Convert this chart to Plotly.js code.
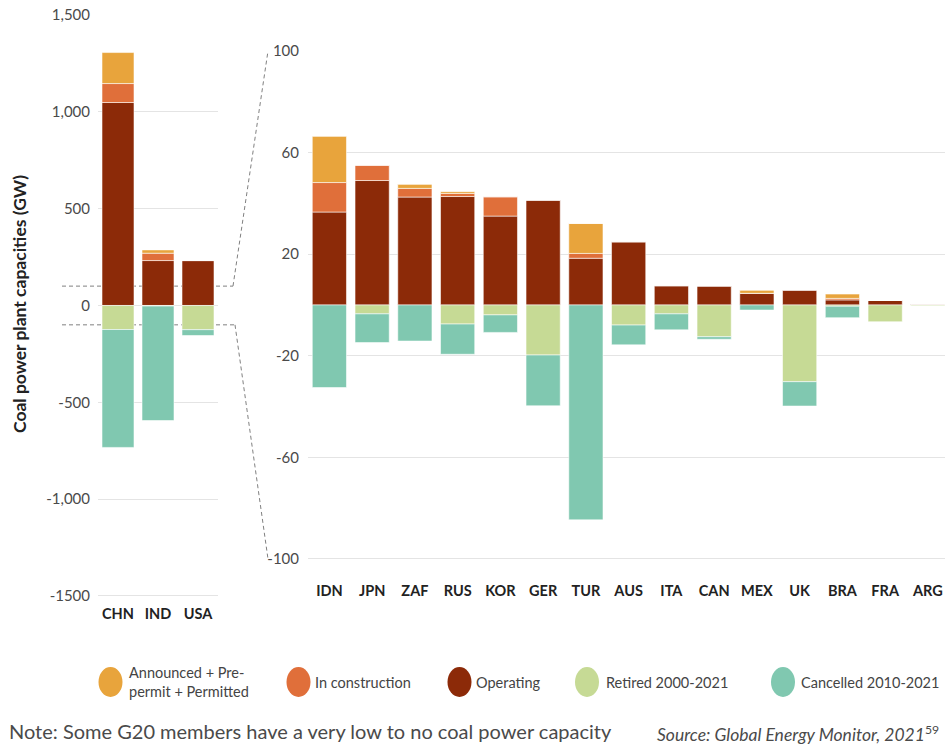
<!DOCTYPE html>
<html>
<head>
<meta charset="utf-8">
<script src="https://cdn.plot.ly/plotly-3.0.1.min.js"></script>
<style>
  html, body { margin: 0; padding: 0; background: #ffffff; }
  #chart { width: 945px; height: 747px; }
</style>
</head>
<body>
<div id="chart"></div>
<script>
// Coal power plant capacities of G20 members (GW)
const bigCountries = ['CHN', 'IND', 'USA'];
const otherCountries = ['IDN', 'JPN', 'ZAF', 'RUS', 'KOR', 'GER', 'TUR', 'AUS', 'ITA', 'CAN', 'MEX', 'UK', 'BRA', 'FRA', 'ARG'];

const seriesNames = ['Announced + Pre-permit + Permitted', 'In construction', 'Operating', 'Retired 2000-2021', 'Cancelled 2010-2021'];
const seriesColors = ['#E8A43C', '#E06F3A', '#8C2A08', '#C6DA95', '#80C8B0'];

// CHN, IND, USA
const bigAnnounced     = [160, 17, 0];
const bigConstruction  = [98, 38, 0];
const bigOperating     = [1048, 232, 232];
const bigRetired       = [-124, -3, -125];
const bigCancelled     = [-609, -591, -30];

// IDN ... ARG
const otherAnnounced    = [18.3, 0, 1.7, 0.7, 0, 0, 11.8, 0, 0, 0, 1.3, 0, 1.7, 0, 0];
const otherConstruction = [11.6, 6, 3.4, 1.2, 7.6, 0, 1.9, 0, 0, 0, 0, 0, 0.6, 0, 0];
const otherOperating    = [36.6, 49, 42.5, 42.7, 35, 41.3, 18.4, 24.9, 7.6, 7.5, 4.6, 5.9, 2.0, 1.8, 0.4];
const otherRetired      = [0, -3.5, 0, -7.5, -3.9, -19.7, 0, -7.9, -3.5, -12.5, 0, -30.2, -0.5, -6.6, -0.3];
const otherCancelled    = [-32.5, -11.3, -14.2, -11.9, -6.9, -20, -84.6, -7.8, -6.3, -1, -2, -9.6, -4.5, 0, 0];

const bigTickVals = [1500, 1000, 500, 0, -500, -1000, -1500];
const bigTickText = ['1,500', '1,000', '500', '0', '-500', '-1,000', '-1500'];
const otherTickVals = [100, 60, 20, -20, -60, -100];
const otherTickText = ['100', '60', '20', '-20', '-60', '-100'];

const yTitle = 'Coal power plant capacities (GW)';
const noteText = 'Note: Some G20 members have a very low to no coal power capacity';
const sourceText = '<i>Source: Global Energy Monitor, 2021</i><sup>59</sup>';

// ---- layout geometry (pixels) ----
const W = 945, H = 747;
const px = v => v / W;
const py = v => 1 - v / H;

const leftRange = [-1540, 1500];
const leftDomainY = [py(603.7), py(15)];
const rightRange = [-106, 100];
const rightDomainY = [py(574.2), py(51)];

// map a value on an axis to paper y
function valToPaper(v, range, dom) {
  return dom[0] + (v - range[0]) / (range[1] - range[0]) * (dom[1] - dom[0]);
}

const bigSeries = [bigAnnounced, bigConstruction, bigOperating, bigRetired, bigCancelled];
const otherSeries = [otherAnnounced, otherConstruction, otherOperating, otherRetired, otherCancelled];
// stacking order: operating closest to zero, then construction, then announced
const stackOrder = [2, 1, 0, 3, 4];

const traces = [];
stackOrder.forEach(i => {
  traces.push({
    type: 'bar', x: bigCountries, y: bigSeries[i], xaxis: 'x', yaxis: 'y',
    name: seriesNames[i], showlegend: false, hoverinfo: 'x+y+name',
    marker: { color: seriesColors[i], line: { color: 'rgba(255,255,255,0.7)', width: 0.8 } }
  });
  traces.push({
    type: 'bar', x: otherCountries, y: otherSeries[i], xaxis: 'x2', yaxis: 'y2',
    name: seriesNames[i], showlegend: false, hoverinfo: 'x+y+name',
    marker: { color: seriesColors[i], line: { color: 'rgba(255,255,255,0.7)', width: 0.8 } }
  });
});

const tickFont = { family: 'Lato, "Open Sans", sans-serif', size: 15, color: '#4a4a4a' };
const catFont = { family: 'Lato, "Open Sans", sans-serif', size: 14.5, color: '#222222', weight: 'bold' };

// zoom connector lines between the two panels
const dash = { color: '#808080', width: 1, dash: '4px,3px' };
const upL = valToPaper(100, leftRange, leftDomainY);
const loL = valToPaper(-100, leftRange, leftDomainY);
const upR = valToPaper(100, rightRange, rightDomainY);
const loR = valToPaper(-100, rightRange, rightDomainY);

const shapes = [
  { type: 'line', xref: 'paper', yref: 'paper', x0: px(62), x1: px(233), y0: upL, y1: upL, line: dash, layer: 'below' },
  { type: 'line', xref: 'paper', yref: 'paper', x0: px(233), x1: px(268), y0: upL, y1: upR, line: dash, layer: 'below' },
  { type: 'line', xref: 'paper', yref: 'paper', x0: px(62), x1: px(235), y0: loL, y1: loL, line: dash, layer: 'below' },
  { type: 'line', xref: 'paper', yref: 'paper', x0: px(235), x1: px(268), y0: loL, y1: loR, line: dash, layer: 'below' }
];

// legend: coloured ellipses with labels
const legendCenters = [110.5, 298.5, 459.5, 587, 783];
const legendTextX = [127, 313, 474, 604, 799];
const legendY = 682;
const annotations = [];
legendCenters.forEach((cx, i) => {
  shapes.push({
    type: 'circle', xref: 'paper', yref: 'paper',
    x0: px(cx - 12), x1: px(cx + 12), y0: py(legendY + 15), y1: py(legendY - 15),
    fillcolor: seriesColors[i], line: { width: 0 }
  });
});
const legendFont = { family: 'Lato, "Open Sans", sans-serif', size: 14.5, color: '#444444' };
const legendLabels = ['Announced + Pre-<br>permit + Permitted'].concat(seriesNames.slice(1));
legendLabels.forEach((label, i) => {
  annotations.push({ xref: 'paper', yref: 'paper', x: px(legendTextX[i]), y: py(legendY), text: label,
    showarrow: false, xanchor: 'left', yanchor: 'middle', align: 'left', font: legendFont });
});

annotations.push({
  xref: 'paper', yref: 'paper', x: px(20), y: py(304), text: '<b>' + yTitle + '</b>', textangle: -90,
  showarrow: false, xanchor: 'center', yanchor: 'middle',
  font: { family: 'Lato, "Open Sans", sans-serif', size: 17.5, color: '#222222' }
});
annotations.push({
  xref: 'paper', yref: 'paper', x: px(7), y: py(731), text: noteText,
  showarrow: false, xanchor: 'left', yanchor: 'middle',
  font: { family: 'Lato, "Open Sans", sans-serif', size: 20, color: '#4a4a4a' }
});
annotations.push({
  xref: 'paper', yref: 'paper', x: px(655), y: py(733), text: sourceText,
  showarrow: false, xanchor: 'left', yanchor: 'middle',
  font: { family: 'Lato, "Open Sans", sans-serif', size: 17.5, color: '#4a4a4a' }
});

const layout = {
  width: W, height: H, autosize: false,
  margin: { l: 0, r: 0, t: 0, b: 0, pad: 0 },
  paper_bgcolor: '#ffffff', plot_bgcolor: 'rgba(0,0,0,0)',
  barmode: 'relative', bargap: 0.2,
  showlegend: false,
  xaxis: {
    domain: [px(98), px(218)], range: [-0.5, 2.5], anchor: 'y',
    showgrid: false, zeroline: false, showline: false,
    ticks: '', tickfont: catFont, fixedrange: true
  },
  yaxis: {
    domain: leftDomainY, range: leftRange, anchor: 'x',
    tickvals: bigTickVals, ticktext: bigTickText,
    showgrid: true, gridcolor: '#e4e4e4', gridwidth: 1, zeroline: false, showline: false,
    ticks: 'outside', ticklen: 4, tickcolor: 'rgba(0,0,0,0)', tickfont: tickFont, fixedrange: true
  },
  xaxis2: {
    domain: [px(308), 1], range: [-0.5, 14.4], anchor: 'y2',
    showgrid: false, zeroline: false, showline: false,
    ticks: 'outside', ticklen: 3, tickcolor: 'rgba(0,0,0,0)', tickfont: catFont, fixedrange: true
  },
  yaxis2: {
    domain: rightDomainY, range: rightRange, anchor: 'x2',
    tickvals: otherTickVals, ticktext: otherTickText,
    showgrid: true, gridcolor: '#e4e4e4', gridwidth: 1, zeroline: false, showline: false,
    ticks: 'outside', ticklen: 5, tickcolor: 'rgba(0,0,0,0)', tickfont: tickFont, fixedrange: true
  },
  shapes: shapes,
  annotations: annotations
};

Plotly.newPlot('chart', traces, layout, { displayModeBar: false, staticPlot: true });
</script>
</body>
</html>
